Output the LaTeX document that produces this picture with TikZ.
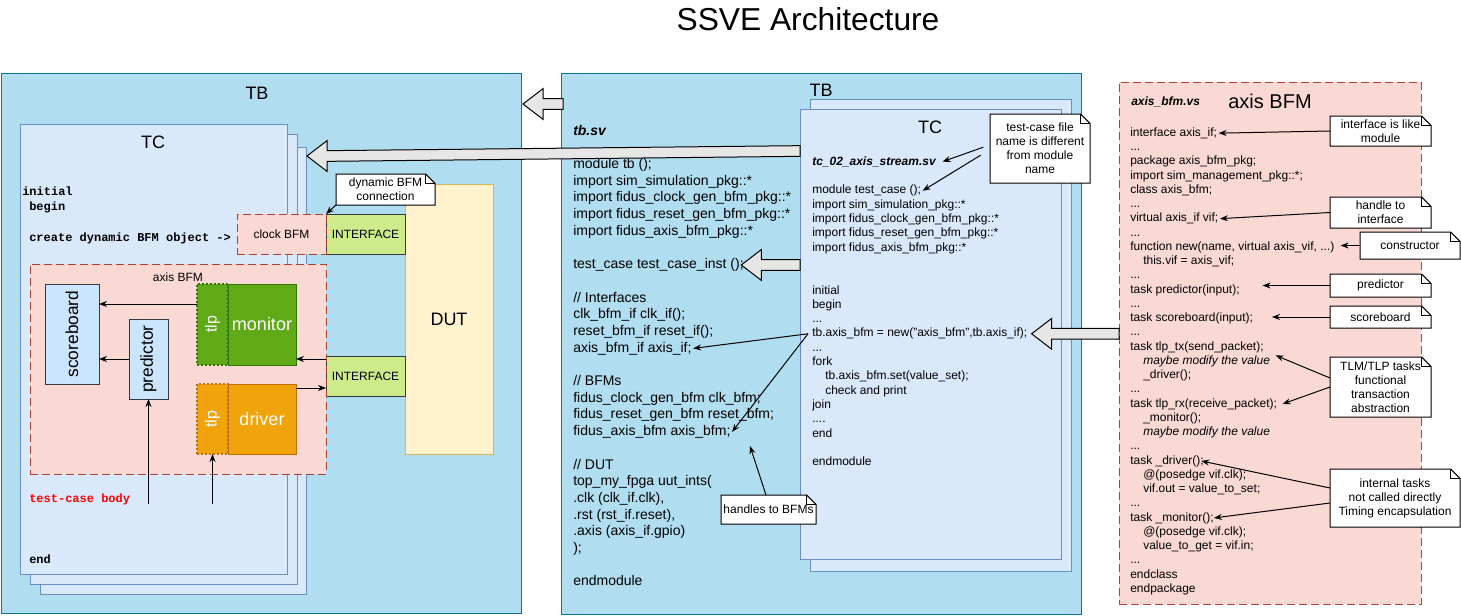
\documentclass[tikz,border=0pt]{standalone}
\usepackage{fontspec}
\setmainfont{Liberation Sans}
\setmonofont{Liberation Mono}
\usetikzlibrary{calc,arrows.meta}
\definecolor{tbfill}{HTML}{B1DDF0}
\definecolor{tbline}{HTML}{10739E}
\definecolor{tcfill}{HTML}{DAE8FC}
\definecolor{tcline}{HTML}{6C8EBF}
\definecolor{pkfill}{HTML}{FAD9D5}
\definecolor{pkline}{HTML}{AE4132}
\definecolor{iffill}{HTML}{CDEB8B}
\definecolor{dkline}{HTML}{36393D}
\definecolor{dutfill}{HTML}{FFF2CC}
\definecolor{dutline}{HTML}{D6B656}
\definecolor{sbfill}{HTML}{CCE5FF}
\definecolor{monfill}{HTML}{60A917}
\definecolor{monline}{HTML}{2D7600}
\definecolor{drvfill}{HTML}{F0A30A}
\definecolor{drvline}{HTML}{BD7000}
\definecolor{harfill}{HTML}{E6E6E6}
\definecolor{tcred}{HTML}{FF0000}
\newcommand\codeind{\hspace*{9.75pt}}
\newcommand\tdots{...}
\newcommand\hollowarrow[2]{%
  \filldraw[harrow] let \p1=(#1), \p2=(#2) in
  (\x1,\y1+4pt) -- (\x2+15pt,\y2+4pt) -- (\x2+15pt,\y2+11.5pt) -- (\x2,\y2)
  -- (\x2+15pt,\y2-11.5pt) -- (\x2+15pt,\y2-4pt) -- (\x1,\y1-4pt) -- cycle;}
\newcommand\notefold[2]{%
  \fill[#2] ([xshift=-7pt]#1.north east) -- (#1.north east) -- ([yshift=-7pt]#1.north east) -- cycle;
  \draw[line width=0.75pt,line join=miter] (#1.south west) -- (#1.north west) -- ([xshift=-7pt]#1.north east)
    -- ([yshift=-7pt]#1.north east) -- (#1.south east) -- cycle;
  \draw[line width=0.75pt] ([xshift=-7pt]#1.north east) -- ([xshift=-7pt,yshift=-7pt]#1.north east)
    -- ([yshift=-7pt]#1.north east);}
\begin{document}
\begin{tikzpicture}[x=0.75pt,y=-0.75pt,
  box/.style n args={4}{anchor=north west, at={(#1,#2)}, minimum width={(#3)*0.75pt},
    minimum height={(#4)*0.75pt}, inner sep=0pt, outer sep=0pt, line width=0.75pt},
  panel/.style={draw=tbline, fill=tbfill},
  tcbox/.style={draw=tcline, fill=tcfill},
  pkbox/.style={draw=pkline, fill=pkfill, dash pattern=on 6pt off 3pt},
  ifbox/.style={draw=dkline, fill=iffill, font=\fontsize{9pt}{10pt}\selectfont},
  lbl/.style={inner sep=0pt},
  big/.style={font=\fontsize{13.5pt}{16pt}\selectfont},
  code14/.style={anchor=base west, inner sep=0pt, font=\fontsize{10.5pt}{12.5pt}\selectfont},
  code12/.style={anchor=base west, inner sep=0pt, font=\fontsize{9pt}{10.7pt}\selectfont},
  mono/.style={anchor=base west, inner sep=0pt, font=\fontsize{9pt}{10.7pt}\selectfont\ttfamily\bfseries},
  notebox/.style={fill=white, align=center, font=\fontsize{9pt}{10.5pt}\selectfont},
  arr/.style={line width=0.75pt, -{Stealth[length=6pt,width=4.5pt]}},
  harrow/.style={draw=black, fill=harfill, line width=0.75pt, line join=miter},
]
\useasboundingbox (0,0) rectangle (1461,615);

% title
\node[lbl, font=\fontsize{23.8pt}{28pt}\selectfont] (title) at (808,19) {SSVE Architecture};

% ---------------- left TB ----------------
\node[box={1}{73}{520}{540}, panel] (leftTB) {};
\node[lbl, big] (leftTBl) at (257,93) {TB};

\node[box={40}{147}{266}{447}, tcbox] (leftTC3) {};
\node[box={30}{134}{267}{450}, tcbox] (leftTC2) {};
\node[box={20}{124}{267}{450}, tcbox] (leftTC1) {};
\node[lbl, big] (leftTCl) at (153,142) {TC};

\node[mono] (lt1) at (22,195) {initial};
\node[mono] (lt2) at (29,210) {begin};
\node[mono] (lt3) at (29,241) {create dynamic BFM object ->};
\node[mono, text=tcred] (lt4) at (29,502) {test-case body};
\node[mono] (lt5) at (29,563) {end};

\node[box={405}{184}{88}{270}, draw=dutline, fill=dutfill, big] (dut) {DUT};
\node[box={326}{214}{79}{40}, ifbox] (ifTop) {INTERFACE};
\node[box={237}{214}{89}{40}, pkbox, font=\fontsize{9pt}{10pt}\selectfont] (clockBFM) {clock BFM};
\node[box={326}{356}{79}{40}, ifbox] (ifBot) {INTERFACE};

\node[box={30}{264}{296}{210}, pkbox] (axisL) {};
\node[lbl, font=\fontsize{9pt}{10pt}\selectfont] (axisLl) at (178,277) {axis BFM};

\node[box={45}{284}{54}{100}, draw=dkline, fill=sbfill] (scoreboard) {};
\node[lbl, rotate=90, font=\fontsize{13pt}{15pt}\selectfont] at (scoreboard.center) {scoreboard};
\node[box={129}{319}{39}{80}, draw=dkline, fill=sbfill] (predictor) {};
\node[lbl, rotate=90, font=\fontsize{13pt}{15pt}\selectfont] at (predictor.center) {predictor};

\node[box={228}{284}{68}{81}, draw=monline, fill=monfill, text=white, font=\fontsize{13.5pt}{16pt}\selectfont] (monitor) {monitor};
\node[box={197}{284}{31}{81}, draw=monline, fill=monfill, line width=1.5pt, dash pattern=on 1.5pt off 1.5pt] (montlp) {};
\node[lbl, rotate=90, text=white, font=\fontsize{12pt}{14pt}\selectfont] at (montlp.center) {tlp};
\node[box={228}{384}{68}{70}, draw=drvline, fill=drvfill, text=white, font=\fontsize{13.5pt}{16pt}\selectfont] (driver) {driver};
\node[box={197}{384}{31}{70}, draw=drvline, fill=drvfill, line width=1.5pt, dash pattern=on 1.5pt off 1.5pt] (drvtlp) {};
\node[lbl, rotate=90, text=white, font=\fontsize{12pt}{14pt}\selectfont] at (drvtlp.center) {tlp};

\coordinate (m1) at ([yshift=-15pt]montlp.north west);
\draw[arr] (m1) -- (m1 -| scoreboard.east);
\draw[arr] (predictor.west) -- (predictor.west -| scoreboard.east);
\coordinate (m2) at ([yshift=-2.25pt]ifBot.north west);
\draw[arr] (m2) -- (m2 -| monitor.east);
\coordinate (m3) at ([yshift=-3pt]driver.north east);
\draw[arr] (m3) -- (m3 -| ifBot.west);
\coordinate (v1) at (148,504);
\draw[arr] (predictor.south |- v1) -- (predictor.south);
\draw[arr] (drvtlp.south |- v1) -- (drvtlp.south);

\node[box={336}{174}{99}{31}, notebox] (dynnote) {dynamic BFM\\connection};
\notefold{dynnote}{tbfill}
\draw[arr] (dynnote.south west) -- (clockBFM.north east);

% ---------------- middle TB ----------------
\node[box={561}{73}{520}{541}, panel] (midTB) {};
\node[lbl, big] (midTBl) at (821,90) {TB};

\foreach \i/\t in {0/{\textbf{\textit{tb.sv}}}, 2/{module tb ();}, 3/{import sim\_simulation\_pkg::*},
  4/{import fidus\_clock\_gen\_bfm\_pkg::*}, 5/{import fidus\_reset\_gen\_bfm\_pkg::*},
  6/{import fidus\_axis\_bfm\_pkg::*}, 8/{test\_case test\_case\_inst ();}, 10/{// Interfaces},
  11/{clk\_bfm\_if clk\_if();}, 12/{reset\_bfm\_if reset\_if();}, 13/{axis\_bfm\_if axis\_if;},
  15/{// BFMs}, 16/{fidus\_clock\_gen\_bfm clk\_bfm;}, 17/{fidus\_reset\_gen\_bfm reset\_bfm;},
  18/{fidus\_axis\_bfm axis\_bfm;}, 20/{// DUT}, 21/{top\_my\_fpga uut\_ints(},
  22/{.clk (clk\_if.clk),}, 23/{.rst (rst\_if.reset),}, 24/{.axis (axis\_if.gpio)}, 25/{);},
  27/{endmodule}}
  \node[code14] (tb\i) at (573,{135+16.7*\i}) {\t};

% ---------------- middle TC ----------------
\node[box={810}{99}{261}{472}, tcbox] (midTC2) {};
\node[box={800}{109}{261}{450}, tcbox] (midTC1) {};
\node[lbl, big] (midTCl) at (930,127) {TC};

\foreach \i/\t in {0/{\textbf{\textit{tc\_02\_axis\_stream.sv}}}, 2/{module test\_case ();},
  3/{import sim\_simulation\_pkg::*}, 4/{import fidus\_clock\_gen\_bfm\_pkg::*},
  5/{import fidus\_reset\_gen\_bfm\_pkg::*}, 6/{import fidus\_axis\_bfm\_pkg::*},
  9/{initial}, 10/{begin}, 11/{\tdots}, 12/{tb.axis\_bfm = new("axis\_bfm",tb.axis\_if);},
  13/{\tdots}, 14/{fork}, 15/{\codeind tb.axis\_bfm.set(value\_set);}, 16/{\codeind check and print},
  17/{join}, 18/{\tdots.}, 19/{end}, 21/{endmodule}}
  \node[code12] (tc\i) at (812,{165.3+14.3*\i}) {\t};

% ---------------- right axis BFM ----------------
\node[box={1119}{82}{302}{522}, pkbox] (rightBFM) {};
\node[code12] (bfname) at (1131,105) {\textbf{\textit{axis\_bfm.vs}}};
\node[lbl, font=\fontsize{15pt}{18pt}\selectfont] (rightBFMl) at (1270,101) {axis BFM};

\foreach \i/\t in {0/{interface axis\_if;}, 1/{\tdots}, 2/{package axis\_bfm\_pkg;},
  3/{import sim\_management\_pkg::*;}, 4/{class axis\_bfm;}, 5/{\tdots}, 6/{virtual axis\_if vif;},
  7/{\tdots}, 8/{function new(name, virtual axis\_vif, \tdots)}, 9/{\codeind this.vif = axis\_vif;},
  10/{\tdots}, 11/{task predictor(input);}, 12/{\tdots}, 13/{task scoreboard(input);}, 14/{\tdots},
  15/{task tlp\_tx(send\_packet);}, 16/{\codeind\textit{maybe modify the value}}, 17/{\codeind\_driver();},
  18/{\tdots}, 19/{task tlp\_rx(receive\_packet);}, 20/{\codeind\_monitor();},
  21/{\codeind\textit{maybe modify the value}}, 22/{\tdots}, 23/{task \_driver();},
  24/{\codeind @(posedge vif.clk);}, 25/{\codeind vif.out = value\_to\_set;}, 26/{\tdots},
  27/{task \_monitor();}, 28/{\codeind @(posedge vif.clk);}, 29/{\codeind value\_to\_get = vif.in;},
  30/{\tdots}, 31/{endclass}, 32/{endpackage}}
  \node[code12] (bf\i) at (1130,{136.3+14.25*\i}) {\t};

% ---------------- hollow arrows ----------------
\hollowarrow{[xshift=1.5pt,yshift=-23.25pt]midTB.north west}{[xshift=1.5pt,yshift=-23.25pt]leftTB.north east}
\hollowarrow{[yshift=-31.5pt]midTC1.north west}{[xshift=0.75pt,yshift=-6.75pt]leftTC3.north east}
\hollowarrow{midTC1.west |- tb8.east}{[xshift=-2pt]tb8.east}
\hollowarrow{rightBFM.west |- tc12.east}{[xshift=3pt]tc12.east}

% ---------------- middle notes & arrows ----------------
\draw[arr] ([xshift=-3pt]tc12.west) -- ([xshift=1pt]tb13.east);
\draw[arr] ([xshift=-3pt]tc12.west) -- ([xshift=1pt]tb18.east);

\node[box={721}{495}{95}{29}, notebox] (hbnote) {handles to BFMs};
\notefold{hbnote}{tcfill}
\coordinate (hbtip) at (750,446);
\draw[arr] ([xshift=33.75pt]hbnote.north west) -- (hbtip);

\node[box={990}{114}{100}{69}, notebox] (tcnote) {test-case file\\name is different\\from module\\name};
\notefold{tcnote}{white}
\draw[arr] ([xshift=-5pt,yshift=1pt]tcnote.west) -- ([xshift=4.5pt]tc0.east);
\draw[arr] ([xshift=-7pt,yshift=-5pt]tcnote.west) -- ([xshift=1pt]tc2.east);

% ---------------- right notes & arrows ----------------
\node[box={1330}{116}{101}{30}, notebox] (nIface) {interface is like\\module};
\notefold{nIface}{white}
\draw[arr] (nIface.west) -- ([xshift=1pt]bf0.east);

\node[box={1330}{197}{101}{31}, notebox] (nHandle) {handle to\\interface};
\notefold{nHandle}{white}
\draw[arr] (nHandle.west) -- ([xshift=1pt]bf6.east);

\node[box={1360}{232}{100}{27}, notebox] (nCtor) {constructor};
\notefold{nCtor}{white}
\coordinate (ct) at ([xshift=4.5pt]bf8.east);
\draw[arr] (nCtor.west) -- (nCtor.west -| ct);

\node[box={1330}{274}{101}{23}, notebox] (nPred) {predictor};
\notefold{nPred}{white}
\coordinate (pt) at ([xshift=17pt]bf11.east);
\draw[arr] (nPred.west) -- (nPred.west -| pt);

\node[box={1330}{306}{101}{22}, notebox] (nScore) {scoreboard};
\notefold{nScore}{white}
\coordinate (st) at ([xshift=14pt]bf13.east);
\draw[arr] (nScore.west) -- (nScore.west -| st);

\node[box={1330}{357}{101}{60}, notebox] (nTlm) {TLM/TLP tasks\\functional\\transaction\\abstraction};
\notefold{nTlm}{white}
\draw[arr] ([yshift=6.75pt]nTlm.west) -- ([xshift=4pt]bf16.north east);
\draw[arr] (nTlm.west) -- ([xshift=4pt]bf19.east);

\node[box={1330}{469}{130}{58}, notebox] (nInt) {internal tasks\\not called directly\\Timing encapsulation};
\notefold{nInt}{white}
\draw[arr] ([yshift=7.5pt]nInt.west) -- ([xshift=-2pt]bf23.east);
\draw[arr] ([yshift=-3.75pt]nInt.west) -- (bf27.east);
\end{tikzpicture}
\end{document}
